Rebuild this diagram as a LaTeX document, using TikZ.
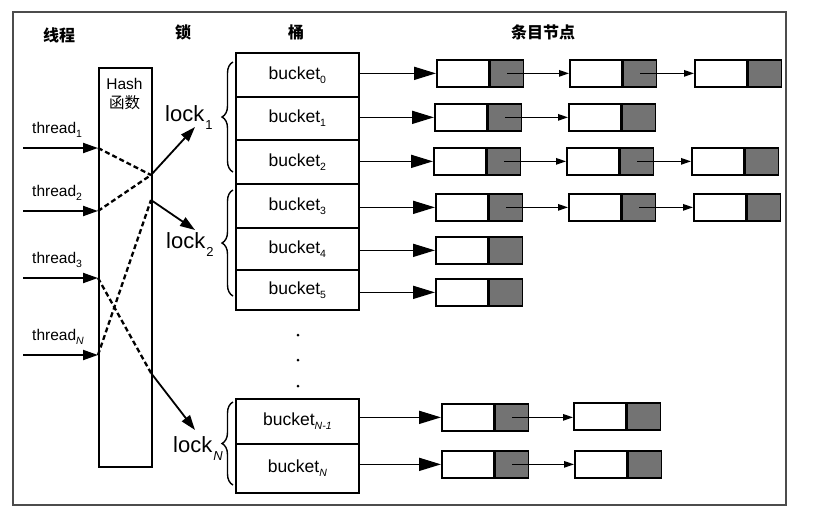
\documentclass[tikz,border=0pt]{standalone}
\usepackage{fontspec}
\setmainfont{Liberation Sans}
\newfontfamily\cjk{Noto Sans CJK SC}
\usetikzlibrary{arrows.meta,decorations.pathreplacing}
\newcommand{\tsub}[1]{\raisebox{-4pt}{\fontsize{10.5}{10.5}\selectfont #1}}
\newcommand{\locksub}[1]{\kern1pt\raisebox{-8pt}{\fontsize{13}{13}\selectfont #1}}
\newcommand{\lnode}[3]{%
  \node[wbox] (#1) at (#2,#3) {};
  \node[gbox] (#1g) at (#1.east) {};}
\tikzset{
  wbox/.style={draw, line width=1.7pt, inner sep=0pt, minimum width=52pt, minimum height=27pt, anchor=north west},
  gbox/.style={draw, line width=1.7pt, inner sep=0pt, minimum width=33pt, minimum height=27pt, anchor=west, fill=black!55},
  bbox/.style={draw, line width=1.7pt, inner sep=0pt, minimum width=123pt, anchor=north west, font=\fontsize{17.5}{17.5}\selectfont},
  tlabel/.style={font=\fontsize{15.5}{15.5}\selectfont, anchor=base west, inner sep=0pt},
  locklabel/.style={font=\fontsize{22}{22}\selectfont, anchor=base west, inner sep=0pt},
  heading/.style={font=\cjk\bfseries\fontsize{16}{16}\selectfont, inner sep=0pt},
  tarrow/.style={line width=2pt, -{Triangle[length=15pt,width=10pt]}},
  larrow/.style={line width=1.8pt, -{Triangle[length=15pt,width=10pt]}},
  barrow/.style={line width=1.7pt, -{Triangle[length=22pt,width=13pt]}},
  narrow/.style={line width=1.3pt, -{Triangle[length=10pt,width=6.5pt]}},
  dashline/.style={line width=2.3pt, dash pattern=on 5pt off 3pt},
  lockbrace/.style={decorate, decoration={brace, amplitude=11pt}, line width=1.4pt},
  dotnode/.style={circle, fill=black, inner sep=0pt, minimum size=3pt},
}
\begin{document}
\begin{tikzpicture}[x=1pt,y=-1pt]
\useasboundingbox (0,0) rectangle (816,515);
\fill[white] (0,0) rectangle (816,515);
\draw[line width=1.2pt, black!70] (13,12) rectangle (786,505);

% headings
\node[heading] (h1) at (59,35) {线程};
\node[heading] (h2) at (183,32) {锁};
\node[heading] (h3) at (296,32) {桶};
\node[heading] (h4) at (543,32) {条目节点};

% hash box
\node[draw, line width=1.7pt, inner sep=0pt, minimum width=53pt, minimum height=399pt, anchor=north west] (hash) at (98,67) {};
\node[align=center, font=\fontsize{15.5}{19}\selectfont, inner sep=0pt] (hashlbl) at (124.5,94) {Hash\\{\cjk 函数}};

% threads
\node[tlabel] (th1) at (32,133) {thread\tsub{1}};
\node[tlabel] (th2) at (32,196) {thread\tsub{2}};
\node[tlabel] (th3) at (32,263) {thread\tsub{3}};
\node[tlabel] (thN) at (32,340) {thread\tsub{\textit{N}}};
\coordinate (s1) at (23,148); \coordinate (e1) at (98,148);
\coordinate (s2) at (23,211); \coordinate (e2) at (98,211);
\coordinate (s3) at (23,278); \coordinate (e3) at (98,278);
\coordinate (sN) at (23,355); \coordinate (eN) at (98,355);
\draw[tarrow] (s1) -- (e1);
\draw[tarrow] (s2) -- (e2);
\draw[tarrow] (s3) -- (e3);
\draw[tarrow] (sN) -- (eN);

% junctions
\coordinate (j1) at (151,175);
\coordinate (j2) at (151,200);
\coordinate (j3) at (151,373);
\draw[dashline] (e1) -- (j1);
\draw[dashline] (e2) -- (j1);
\draw[dashline] (eN) -- (j2);
\draw[dashline] (e3) -- (j3);

% locks
\node[locklabel] (lock1) at (165,121) {lock\locksub{1}};
\node[locklabel] (lock2) at (166,248) {lock\locksub{2}};
\node[locklabel] (lockN) at (173,452) {lock\locksub{\textit{N}}};
\coordinate (a1) at (195,127);
\coordinate (a2) at (195,230);
\coordinate (aN) at (195,430);
\draw[larrow] (j1) -- (a1);
\draw[larrow] (j2) -- (a2);
\draw[larrow] (j3) -- (aN);

% braces
\draw[lockbrace] (233,172) -- (233,62);
\draw[lockbrace] (233,296) -- (233,190);
\draw[lockbrace] (233,485) -- (233,402);

% buckets
\node[bbox, minimum height=44pt] (b0) at (235,52) {bucket\tsub{0}};
\node[bbox, minimum height=43pt] (b1) at (235,96) {bucket\tsub{1}};
\node[bbox, minimum height=44pt] (b2) at (235,139) {bucket\tsub{2}};
\node[bbox, minimum height=44pt] (b3) at (235,183) {bucket\tsub{3}};
\node[bbox, minimum height=42pt] (b4) at (235,227) {bucket\tsub{4}};
\node[bbox, minimum height=40pt] (b5) at (235,269) {bucket\tsub{5}};
\node[bbox, minimum height=45pt] (bA) at (235,398) {bucket\tsub{\textit{N-1}}};
\node[bbox, minimum height=49pt] (bB) at (235,443) {bucket\tsub{\textit{N}}};

% dots
\node[dotnode] (d1) at (298,335) {};
\node[dotnode] (d2) at (298,360) {};
\node[dotnode] (d3) at (298,386) {};

% list nodes
\lnode{n00}{436}{59} \lnode{n01}{569}{59} \lnode{n02}{694}{59}
\lnode{n10}{434}{103} \lnode{n11}{568}{103}
\lnode{n20}{433}{147} \lnode{n21}{566}{147} \lnode{n22}{691}{147}
\lnode{n30}{435}{193} \lnode{n31}{568}{193} \lnode{n32}{693}{193}
\lnode{n40}{435}{236}
\lnode{n50}{435}{278}
\lnode{nA0}{441}{403} \lnode{nA1}{573}{402}
\lnode{nB0}{441}{450} \lnode{nB1}{574}{450}

% bucket arrows
\draw[barrow] (b0.east |- n00.west) -- (n00.west);
\draw[barrow] (b1.east |- n10.west) -- (n10.west);
\draw[barrow] (b2.east |- n20.west) -- (n20.west);
\draw[barrow] (b3.east |- n30.west) -- (n30.west);
\draw[barrow] (b4.east |- n40.west) -- (n40.west);
\draw[barrow] (b5.east |- n50.west) -- (n50.west);
\draw[barrow] (bA.east |- nA0.west) -- (nA0.west);
\draw[barrow] (bB.east |- nB0.west) -- (nB0.west);

% node arrows
\draw[narrow] (n00g.center) -- (n01.west);
\draw[narrow] (n01g.center) -- (n02.west);
\draw[narrow] (n10g.center) -- (n11.west);
\draw[narrow] (n20g.center) -- (n21.west);
\draw[narrow] (n21g.center) -- (n22.west);
\draw[narrow] (n30g.center) -- (n31.west);
\draw[narrow] (n31g.center) -- (n32.west);
\draw[narrow] (nA0g.center) -- (nA1.west |- nA0g.center);
\draw[narrow] (nB0g.center) -- (nB1.west);
\end{tikzpicture}
\end{document}
